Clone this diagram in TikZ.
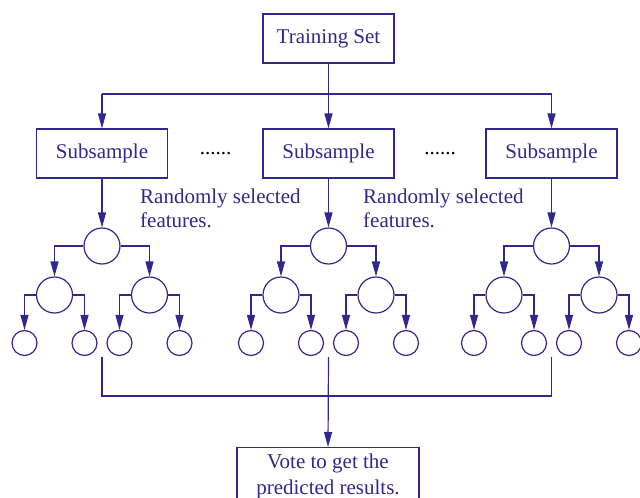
\documentclass[tikz,border=0pt]{standalone}
\usepackage{fontspec}
\setmainfont{Liberation Serif}
\usetikzlibrary{arrows.meta}
\usetikzlibrary{calc}
\usetikzlibrary{positioning}

\definecolor{ink}{RGB}{48,40,140}
\tikzset{
  box/.style={draw=ink, line width=1.2pt, minimum width=131pt, minimum height=49pt,
    inner sep=0, text=ink, font=\fontsize{21}{25}\selectfont},
  big/.style={draw=ink, circle, line width=1.2pt, minimum size=36pt, inner sep=0},
  small/.style={draw=ink, circle, line width=1.2pt, minimum size=25pt, inner sep=0},
  wire/.style={draw=ink, line width=1.2pt},
  link/.style={wire, -{Triangle[length=15pt,width=8pt]}},
  note/.style={text=ink, align=left, inner sep=0, font=\fontsize{21}{24}\selectfont},
  dots/.style={text=black, inner sep=0, font=\fontsize{21}{25}\selectfont},
}

\begin{document}
\begin{tikzpicture}[x=1pt,y=-1pt]
  \useasboundingbox (0,0) rectangle (640,498);
  \clip (0,0) rectangle (640,498);

  \node[box] (TS) at (328.5,38.5) {Training Set};
  \coordinate (split) at (328.5,94);
  \coordinate (join) at (328.5,396);

  % one tree per subsample
  \foreach \x/\n in {102/1,328.5/2,551.5/3} {
    \node[box] (S\n) at (\x,153.5) {Subsample};
    \node[big] (R\n) at (\x,246) {};
    \node[big] (A\n) at ([shift={(-47.5,49)}]R\n.center) {};
    \node[big] (B\n) at ([shift={(47.5,49)}]R\n.center) {};
    \node[small] (A\n1) at ([shift={(-30,48)}]A\n.center) {};
    \node[small] (A\n2) at ([shift={(30,48)}]A\n.center) {};
    \node[small] (B\n1) at ([shift={(-30,48)}]B\n.center) {};
    \node[small] (B\n2) at ([shift={(30,48)}]B\n.center) {};
    \coordinate (E\n) at (\x,357);

    \draw[link] (split -| S\n) -- (S\n.north);
    \draw[link] (S\n) -- (R\n);
    \draw[link] (R\n.west) -| (A\n.north);
    \draw[link] (R\n.east) -| (B\n.north);
    \draw[link] (A\n.west) -| (A\n1.north);
    \draw[link] (A\n.east) -| (A\n2.north);
    \draw[link] (B\n.west) -| (B\n1.north);
    \draw[link] (B\n.east) -| (B\n2.north);
  }

  \draw[wire] (TS.south) -- (split);
  \draw[wire] (split -| S1) -- (split -| S3);

  \node[dots, anchor=base] (D1) at (215.5,154) {......};
  \node[dots, anchor=base] (D2) at (440,154) {......};

  \node[note, anchor=north west] (F1) at (140,188.5) {Randomly selected\\features.};
  \node[note, anchor=north west] (F2) at (363,188.5) {Randomly selected\\features.};

  \node[box, anchor=north, minimum width=182pt, inner ysep=6pt, align=center,
    font=\fontsize{21}{26}\selectfont] (V) at (328,447)
    {Vote to get the\\predicted results.};

  \draw[wire] (E1) -- (E1 |- join) -- (E3 |- join) -- (E3);
  \draw[link] (E2) -- (V.north);
\end{tikzpicture}
\end{document}
